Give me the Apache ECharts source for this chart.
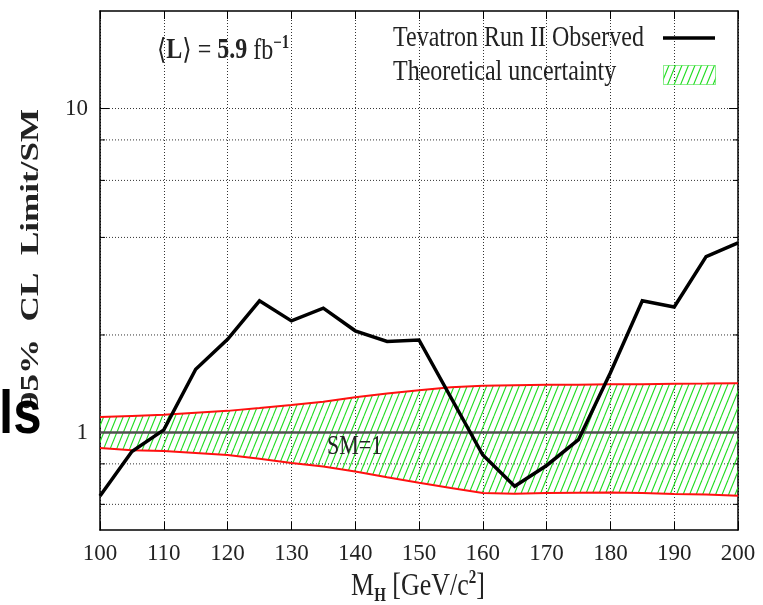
<!DOCTYPE html>
<html>
<head>
<meta charset="utf-8">
<script src="https://cdn.jsdelivr.net/npm/echarts@6/dist/echarts.min.js"></script>
<style>
  html, body { margin: 0; padding: 0; background: #fff; }
  #chart { width: 763px; height: 605px; }
</style>
</head>
<body>
<div id="chart"></div>
<script>
// Higgs mass points (GeV/c^2) and theory-uncertainty band edges
const massPoints = [100, 105, 110, 115, 120, 125, 130, 135, 140, 145, 150, 155, 160, 165, 170, 175, 180, 185, 190, 195, 200];
const bandUpper  = [1.116, 1.125, 1.134, 1.150, 1.166, 1.190, 1.215, 1.245, 1.285, 1.320, 1.350, 1.378, 1.395, 1.400, 1.403, 1.405, 1.408, 1.410, 1.413, 1.416, 1.420];
const bandLower  = [0.895, 0.882, 0.876, 0.864, 0.852, 0.830, 0.805, 0.785, 0.758, 0.728, 0.700, 0.674, 0.650, 0.647, 0.650, 0.652, 0.653, 0.650, 0.646, 0.643, 0.638];

// Observed 95% CL limit / SM
const observedMass  = [100, 105, 110, 115, 120, 125, 130, 135, 140, 145, 150, 160, 165, 170, 175, 180, 185, 190, 195, 200];
const observedLimit = [0.637, 0.874, 1.019, 1.567, 1.94, 2.55, 2.21, 2.42, 2.06, 1.91, 1.93, 0.852, 0.682, 0.791, 0.95, 1.53, 2.55, 2.44, 3.49, 3.85];

// Axis ranges, horizontal grid values and labelled decades
const massRange = [100, 200];
const massStep = 10;
const limitRange = [0.5, 20];
const gridValues = [0.6, 0.8, 1, 2, 4, 6, 8, 10];
const labelledValues = [1, 10];
const smValue = 1;

const SERIF = '"Liberation Serif", "DejaVu Serif", serif';
const TEXT = '#222';
const HATCH = '#1edc1e';

// diagonal hatch tile for the uncertainty band
function makeHatch() {
  const w = 13, h = 32;
  const c = document.createElement('canvas');
  c.width = w; c.height = h;
  const g = c.getContext('2d');
  g.strokeStyle = HATCH;
  g.lineWidth = 1.1;
  for (let k = -2; k <= 2; k++) {
    const x0 = k * w / 2;
    g.beginPath();
    g.moveTo(x0, h);
    g.lineTo(x0 + w, 0);
    g.stroke();
  }
  return c;
}
const hatchTile = makeHatch();
const hatchFill = { image: hatchTile, repeat: 'repeat' };

const chart = echarts.init(document.getElementById('chart'), null, { renderer: 'canvas' });

const isLabelled = v => labelledValues.some(l => Math.abs(l - v) < 1e-6 * l);

const option = {
  animation: false,
  backgroundColor: '#fff',
  grid: { left: 100, right: 25, top: 11, bottom: 75, containLabel: false, outerBoundsMode: 'none' },
  xAxis: [
    {
      type: 'value', min: massRange[0], max: massRange[1], interval: massStep, position: 'bottom',
      axisLine: { show: true, onZero: false, lineStyle: { color: '#000', width: 1.5 } },
      axisTick: { show: true, inside: true, length: 8, lineStyle: { color: '#000', width: 1 } },
      axisLabel: { color: TEXT, fontFamily: SERIF, fontSize: 23, margin: 12 },
      splitLine: { show: true, lineStyle: { color: '#333', width: 1, type: [1, 2] } }
    },
    {
      type: 'value', min: massRange[0], max: massRange[1], interval: massStep, position: 'top',
      axisLine: { show: true, onZero: false, lineStyle: { color: '#000', width: 1.5 } },
      axisTick: { show: true, inside: true, length: 8, lineStyle: { color: '#000', width: 1 } },
      axisLabel: { show: false },
      splitLine: { show: false }
    }
  ],
  yAxis: [
    {
      type: 'log', logBase: 10, min: limitRange[0], max: limitRange[1], position: 'left',
      axisLine: { show: true, onZero: false, lineStyle: { color: '#000', width: 1.5 } },
      axisTick: { show: false },
      axisLabel: {
        color: TEXT, fontFamily: SERIF, fontSize: 23, margin: 12,
        formatter: v => isLabelled(v) ? String(Math.round(v)) : ''
      },
      splitLine: { show: false }
    },
    {
      type: 'log', logBase: 10, min: limitRange[0], max: limitRange[1], position: 'right',
      axisLine: { show: true, onZero: false, lineStyle: { color: '#000', width: 1.5 } },
      axisTick: { show: false },
      axisLabel: { show: false },
      splitLine: { show: false }
    }
  ],
  series: [
    {
      // dotted horizontal grid with short edge ticks
      name: 'grid', type: 'custom', coordinateSystem: 'cartesian2d', silent: true, z: 1,
      data: gridValues.map(v => [massRange[0], v]),
      renderItem: (params, api) => {
        const v = api.value(1);
        const a = api.coord([massRange[0], v]);
        const b = api.coord([massRange[1], v]);
        const len = isLabelled(v) ? 9 : 5;
        return {
          type: 'group',
          children: [
            { type: 'line', shape: { x1: a[0], y1: a[1], x2: b[0], y2: b[1] }, style: { stroke: '#333', lineWidth: 1, lineDash: [1, 2] } },
            { type: 'line', shape: { x1: a[0], y1: a[1], x2: a[0] + len, y2: a[1] }, style: { stroke: '#000', lineWidth: 1 } },
            { type: 'line', shape: { x1: b[0] - len, y1: b[1], x2: b[0], y2: b[1] }, style: { stroke: '#000', lineWidth: 1 } }
          ]
        };
      }
    },
    {
      // hatched theoretical uncertainty band
      name: 'Theoretical uncertainty', type: 'custom', coordinateSystem: 'cartesian2d', silent: true, z: 2,
      data: [[massPoints[0], bandUpper[0]]],
      renderItem: (params, api) => {
        const pts = massPoints.map((m, i) => api.coord([m, bandUpper[i]]));
        for (let i = massPoints.length - 1; i >= 0; i--) pts.push(api.coord([massPoints[i], bandLower[i]]));
        return { type: 'polygon', shape: { points: pts }, style: { fill: hatchFill, stroke: null } };
      }
    },
    {
      name: 'band upper', type: 'line', symbol: 'none', z: 3, silent: true,
      data: massPoints.map((m, i) => [m, bandUpper[i]]),
      lineStyle: { color: '#ff1010', width: 2 }
    },
    {
      name: 'band lower', type: 'line', symbol: 'none', z: 3, silent: true,
      data: massPoints.map((m, i) => [m, bandLower[i]]),
      lineStyle: { color: '#ff1010', width: 2 }
    },
    {
      name: 'SM', type: 'line', symbol: 'none', z: 3, silent: true,
      data: [[massRange[0], smValue], [massRange[1], smValue]],
      lineStyle: { color: '#505050', width: 2.5 }
    },
    {
      name: 'Tevatron Run II Observed', type: 'line', symbol: 'none', z: 4, silent: true,
      data: observedMass.map((m, i) => [m, observedLimit[i]]),
      lineStyle: { color: '#000', width: 3.5, join: 'miter' }
    }
  ],
  graphic: [
    // legend
    { type: 'text', x: 393, y: 38, scaleY: 1.2, z: 10,
      style: { text: 'Tevatron Run II Observed', font: '24px ' + SERIF, fill: TEXT, align: 'left', verticalAlign: 'middle' } },
    { type: 'line', z: 10, shape: { x1: 663, y1: 38, x2: 715, y2: 38 }, style: { stroke: '#000', lineWidth: 3.5 } },
    { type: 'text', x: 393, y: 72, scaleY: 1.2, z: 10,
      style: { text: 'Theoretical uncertainty', font: '24px ' + SERIF, fill: TEXT, align: 'left', verticalAlign: 'middle' } },
    { type: 'rect', z: 10, shape: { x: 663.5, y: 65.5, width: 52, height: 19 },
      style: { fill: hatchFill, stroke: HATCH, lineWidth: 1, lineDash: [1, 1] } },
    // integrated luminosity
    { type: 'text', x: 157, y: 51, scaleY: 1.2, z: 10,
      style: {
        text: '{n|⟨}{b|L}{n|⟩ = }{b|5.9}{n| fb}{s|−1}',
        align: 'left', verticalAlign: 'middle', fill: TEXT,
        rich: {
          n: { font: '24px ' + SERIF, fill: TEXT, lineHeight: 28 },
          b: { font: 'bold 24px ' + SERIF, fill: TEXT, lineHeight: 28 },
          s: { font: 'bold 15px ' + SERIF, fill: TEXT, lineHeight: 15, verticalAlign: 'top' }
        }
      } },
    // SM reference label
    { type: 'text', x: 327, y: 447, scaleY: 1.2, z: 10,
      style: { text: 'SM=1', font: '22px ' + SERIF, fill: TEXT, align: 'left', verticalAlign: 'middle' } },
    // axis titles
    { type: 'text', x: 418, y: 587, scaleY: 1.2, z: 10,
      style: {
        text: '{n|M}{h|H}{n| [GeV/c}{s|2}{n|]}',
        align: 'center', verticalAlign: 'middle', fill: TEXT,
        rich: {
          n: { font: '26px ' + SERIF, fill: TEXT, lineHeight: 30 },
          h: { font: 'bold 15px ' + SERIF, fill: TEXT, lineHeight: 15, verticalAlign: 'bottom' },
          s: { font: 'bold 15px ' + SERIF, fill: TEXT, lineHeight: 15, verticalAlign: 'top' }
        }
      } },
    { type: 'text', x: 31, y: 259, rotation: Math.PI / 2, scaleX: 1.35, z: 10,
      style: { text: '95%  CL  Limit/SM', font: 'bold 26px ' + SERIF, fill: TEXT, align: 'center', verticalAlign: 'middle' } },
    { type: 'text', x: -1, y: 416, scaleY: 1.18, z: 11,
      style: { text: 'ls', font: 'bold 51px "Liberation Sans", Arial, sans-serif', fill: '#000', align: 'left', verticalAlign: 'middle' } }
  ]
};

chart.setOption(option);
</script>
</body>
</html>
